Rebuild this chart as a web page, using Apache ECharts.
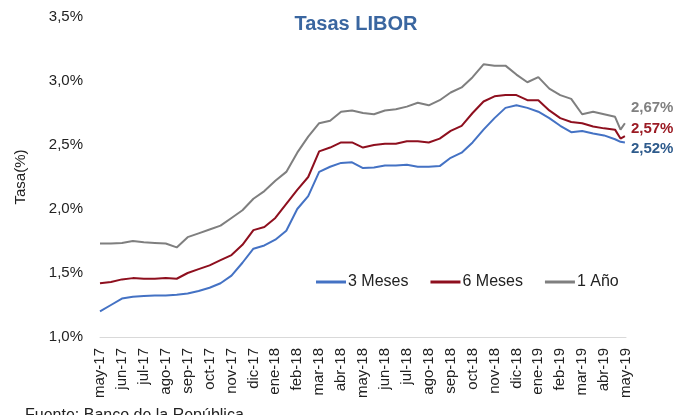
<!DOCTYPE html>
<html>
<head>
<meta charset="utf-8">
<script src="https://cdn.jsdelivr.net/npm/echarts@6/dist/echarts.min.js"></script>
<style>
html,body{margin:0;padding:0;background:#fff;}
#chart{width:691px;height:415px;}
</style>
</head>
<body>
<div id="chart"></div>
<script>
const monthLabels = ['may-17','jun-17','jul-17','ago-17','sep-17','oct-17','nov-17','dic-17','ene-18','feb-18','mar-18','abr-18','may-18','jun-18','jul-18','ago-18','sep-18','oct-18','nov-18','dic-18','ene-19','feb-19','mar-19','abr-19','may-19'];

// position of each observation, in months since may-17
const t = [0,0.5,1,1.5,2,2.5,3,3.5,4,4.5,5,5.5,6,6.5,7,7.5,8,8.5,9,9.5,10,10.5,11,11.5,12,12.5,13,13.5,14,14.5,15,15.5,16,16.5,17,17.5,18,18.5,19,19.5,20,20.5,21,21.5,22,22.5,23,23.5,23.75,23.95];

const tasa3m = [1.20,1.25,1.30,1.315,1.32,1.325,1.325,1.33,1.34,1.36,1.385,1.42,1.48,1.58,1.69,1.715,1.76,1.83,2.00,2.10,2.29,2.33,2.36,2.365,2.32,2.325,2.34,2.34,2.345,2.33,2.33,2.335,2.40,2.44,2.52,2.62,2.71,2.79,2.81,2.79,2.76,2.71,2.65,2.60,2.61,2.59,2.575,2.545,2.525,2.52];
const tasa6m = [1.42,1.43,1.45,1.46,1.455,1.455,1.46,1.455,1.50,1.53,1.56,1.60,1.64,1.72,1.835,1.86,1.93,2.04,2.15,2.25,2.45,2.48,2.52,2.52,2.48,2.50,2.51,2.51,2.53,2.53,2.52,2.55,2.61,2.65,2.75,2.84,2.88,2.89,2.89,2.85,2.85,2.77,2.71,2.68,2.67,2.645,2.63,2.62,2.55,2.57];
const tasa1a = [1.73,1.73,1.735,1.75,1.74,1.735,1.73,1.70,1.78,1.81,1.84,1.87,1.93,1.99,2.08,2.14,2.22,2.29,2.44,2.565,2.67,2.69,2.76,2.77,2.75,2.74,2.77,2.78,2.80,2.83,2.81,2.85,2.91,2.95,3.03,3.13,3.12,3.12,3.05,2.99,3.03,2.94,2.89,2.86,2.74,2.76,2.74,2.72,2.62,2.67];

const seriesNames = ['3 Meses','6 Meses','1 Año'];
const yTicks = [1.0,1.5,2.0,2.5,3.0,3.5];

function pct(v, d){ return v.toFixed(d).replace('.', ',') + '%'; }
function pairs(arr){ return arr.map((v,i)=>[t[i], v]); }

const FONT = '"Liberation Sans", Arial, sans-serif';

function mkSeries(name, data, color, labelColor, dy){
  return {
    name: name, type: 'line', data: pairs(data), symbol: 'none', showSymbol: false,
    lineStyle: {color: color, width: 2}, itemStyle: {color: color},
    endLabel: {
      show: true, distance: 6, offset: [0, dy],
      formatter: p => pct(p.value[1], 2),
      color: labelColor, fontFamily: FONT, fontSize: 15, fontWeight: 'bold'
    },
    animation: false
  };
}

const chart = echarts.init(document.getElementById('chart'), null, {renderer: 'canvas'});
chart.setOption({
  backgroundColor: '#fff',
  animation: false,
  title: {
    text: 'Tasas LIBOR', left: 351, top: 9, textAlign: 'center',
    textStyle: {color: '#3A66A0', fontSize: 20, fontWeight: 'bold', fontFamily: FONT}
  },
  legend: {
    data: seriesNames, left: 311, top: 269, icon: 'rect', itemWidth: 30, itemHeight: 3, itemGap: 22,
    textStyle: {fontSize: 16, color: '#222', fontFamily: FONT, padding: [0,0,0,-3]}
  },
  grid: {left: 100, right: 65, top: 17, bottom: 78, containLabel: false},
  xAxis: {
    type: 'value', min: 0, max: 24, interval: 1,
    axisLine: {show: true, lineStyle: {color: '#d9d9d9', width: 1}},
    axisTick: {show: false},
    splitLine: {show: false},
    axisLabel: {
      rotate: 90, margin: 11, fontSize: 15, color: '#222', fontFamily: FONT,
      formatter: v => monthLabels[Math.round(v)] || ''
    }
  },
  yAxis: {
    type: 'value', min: yTicks[0], max: yTicks[yTicks.length-1], interval: 0.5,
    name: 'Tasa(%)', nameLocation: 'middle', nameGap: 72,
    nameTextStyle: {fontSize: 15, color: '#222', fontFamily: FONT},
    axisLine: {show: false}, axisTick: {show: false}, splitLine: {show: false},
    axisLabel: {margin: 17, fontSize: 15, color: '#222', fontFamily: FONT, formatter: v => pct(v, 1)}
  },
  graphic: [{
    type: 'text', left: 25, top: 408,
    style: {text: 'Fuente: Banco de la República', fill: '#222', font: '16px "Liberation Sans", Arial, sans-serif'}
  }],
  series: [
    mkSeries(seriesNames[0], tasa3m, '#4472C4', '#2E5B8C', 6),
    mkSeries(seriesNames[1], tasa6m, '#8E0F1E', '#9B1B24', -7),
    mkSeries(seriesNames[2], tasa1a, '#7F7F7F', '#808080', -15)
  ]
});
</script>
</body>
</html>
